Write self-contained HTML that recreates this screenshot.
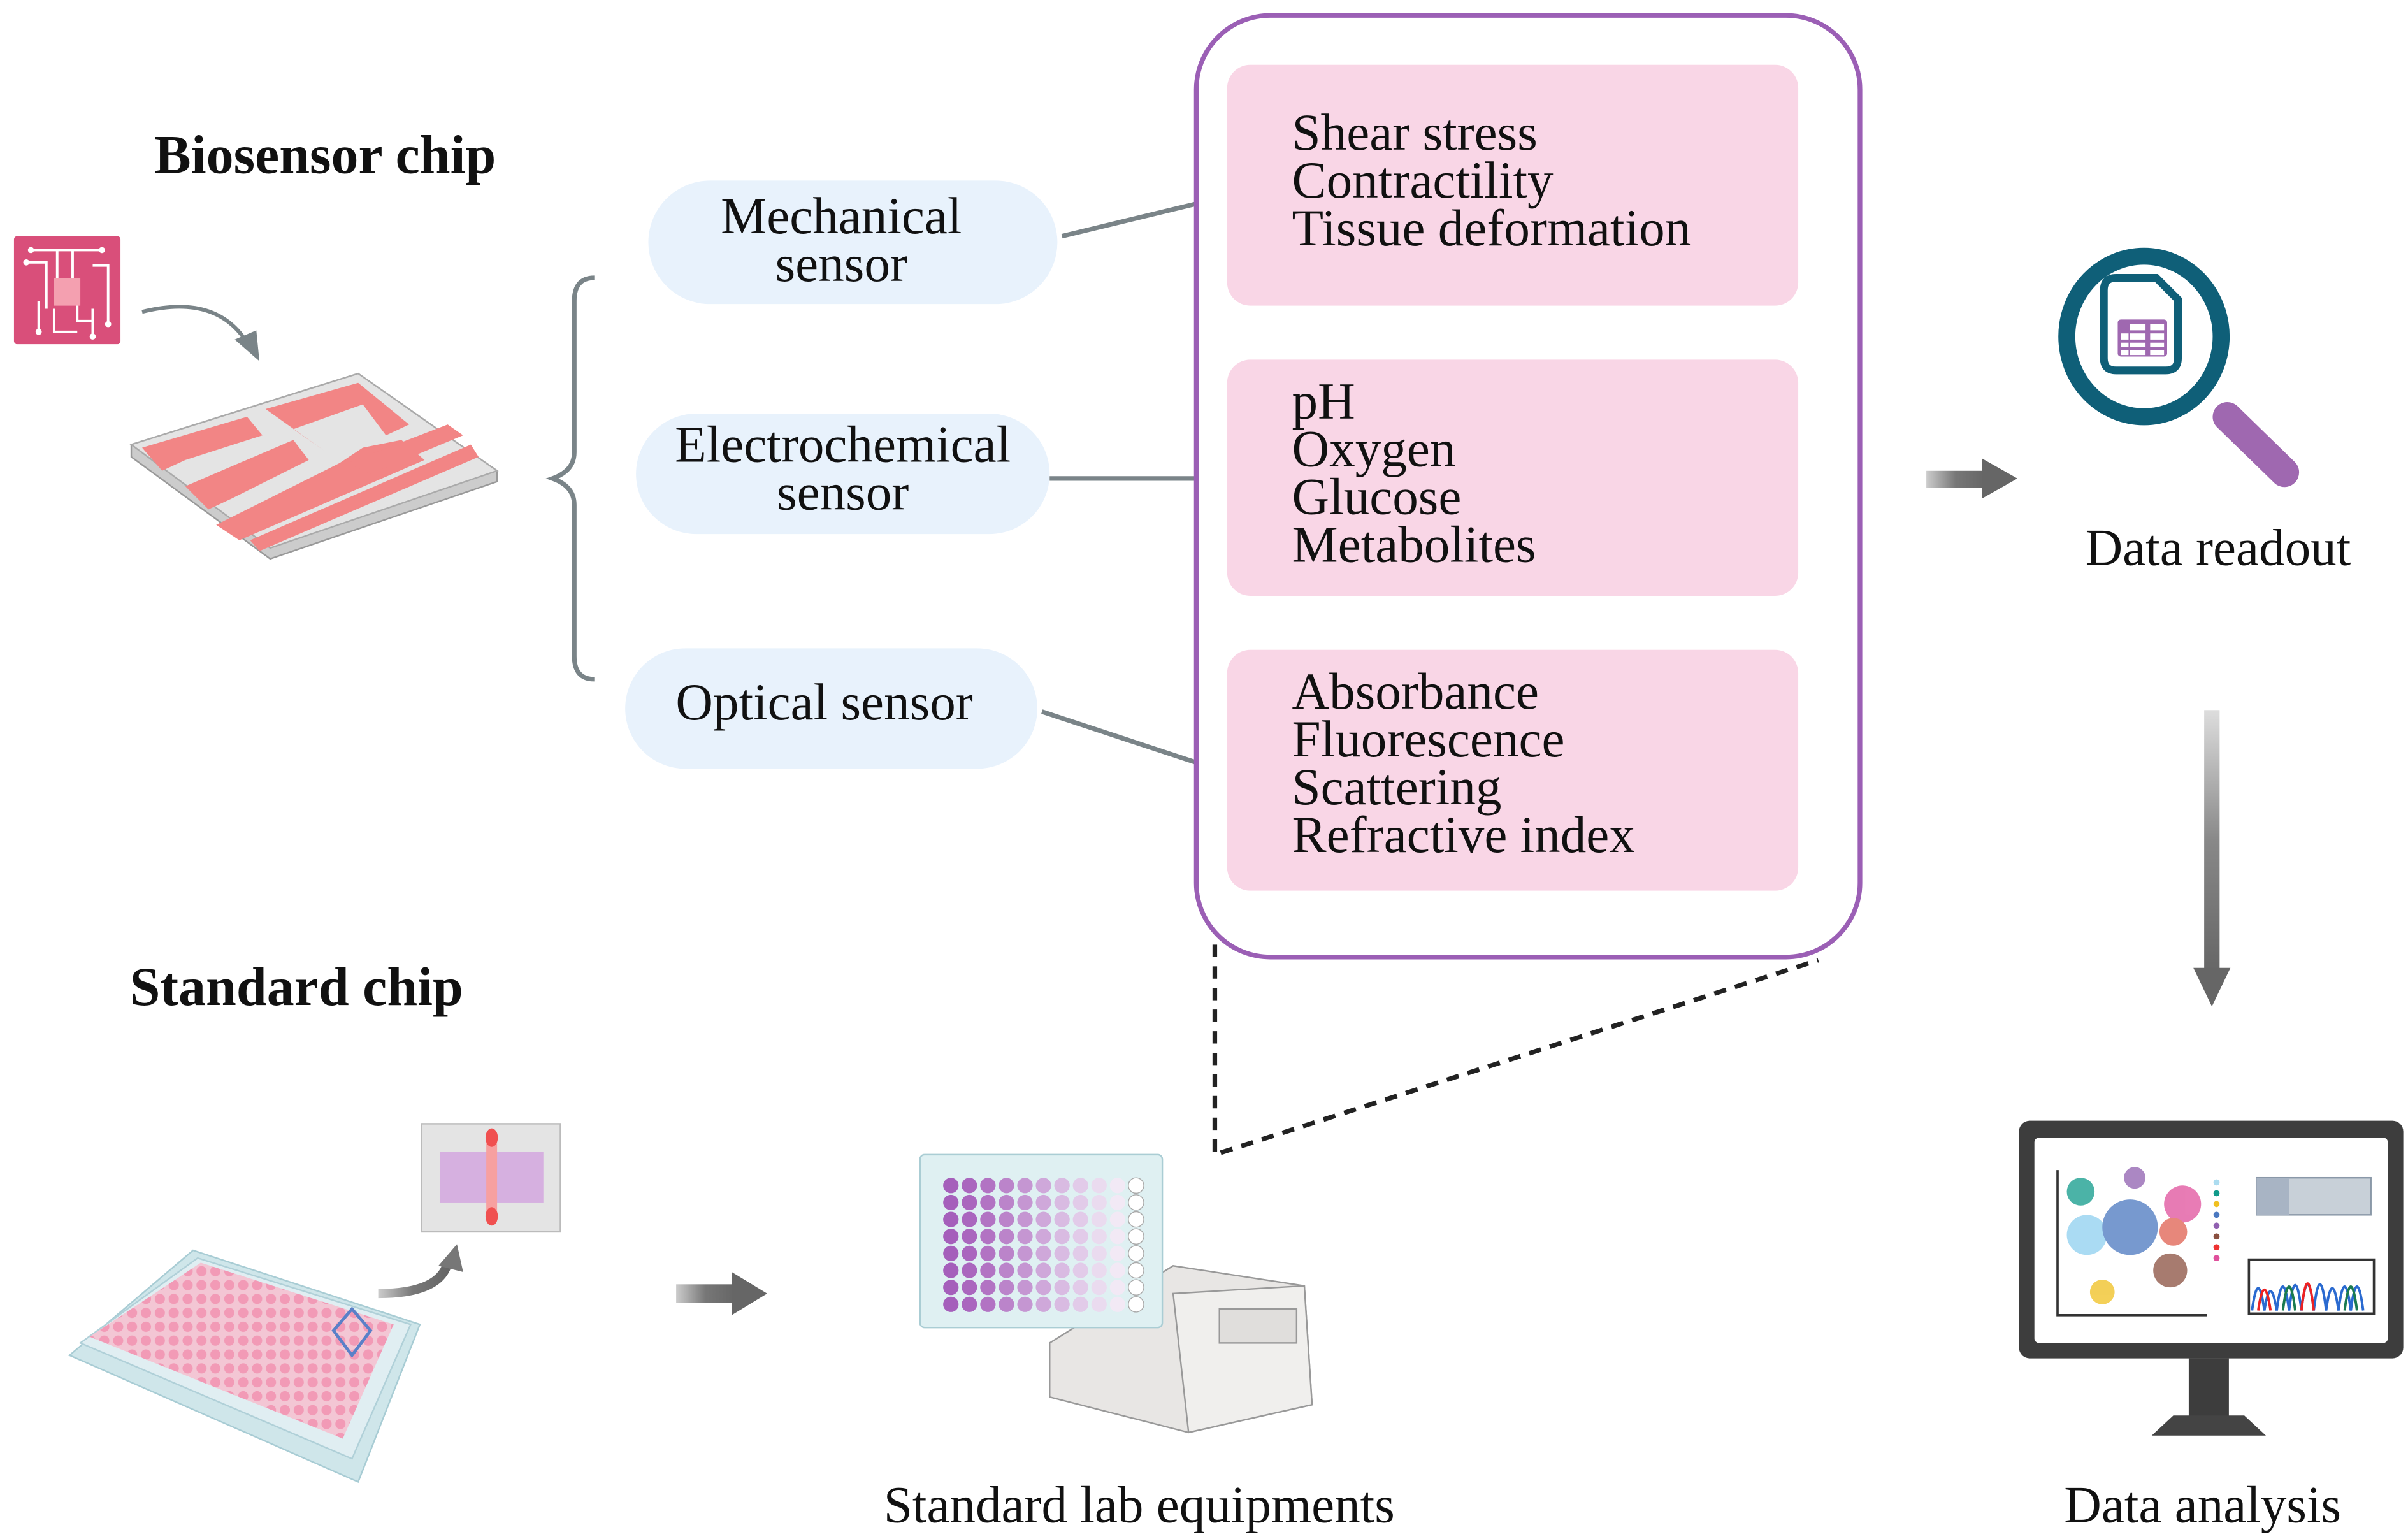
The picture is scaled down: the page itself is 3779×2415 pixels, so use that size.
<!DOCTYPE html>
<html><head><meta charset="utf-8"><style>
html,body{margin:0;padding:0;background:#fff;}
svg{display:block;}
text{font-family:"Liberation Serif",serif;fill:#111;}
</style></head><body>
<svg width="3779" height="2415" viewBox="0 0 1560 997" xmlns="http://www.w3.org/2000/svg">
<defs>
<linearGradient id="ga" x1="0" x2="1" y1="0" y2="0"><stop offset="0" stop-color="#ccc"/><stop offset="0.5" stop-color="#777"/><stop offset="1" stop-color="#666"/></linearGradient>
<linearGradient id="gd" x1="0" x2="0" y1="0" y2="1"><stop offset="0" stop-color="#ddd"/><stop offset="0.5" stop-color="#888"/><stop offset="1" stop-color="#666"/></linearGradient>
<pattern id="wp" width="9" height="9" patternUnits="userSpaceOnUse"><rect width="9" height="9" fill="#f3c6d4"/><circle cx="4.5" cy="4.5" r="3.3" fill="#f29ab6"/></pattern>
<g id="wrow"><circle cx="616" cy="768" r="5" fill="#a55fbb"/><circle cx="628" cy="768" r="5" fill="#aa66be"/><circle cx="640" cy="768" r="5" fill="#b273c3"/><circle cx="652" cy="768" r="5" fill="#bb84ca"/><circle cx="664" cy="768" r="5" fill="#c596d2"/><circle cx="676" cy="768" r="5" fill="#cfa8da"/><circle cx="688" cy="768" r="5" fill="#d9bbe2"/><circle cx="700" cy="768" r="5" fill="#e2cbe9"/><circle cx="712" cy="768" r="5" fill="#eadbef"/><circle cx="724" cy="768" r="5" fill="#f2e9f5"/><circle cx="736" cy="768" r="5" fill="#fff" stroke="#aaa" stroke-width="0.6"/></g>
</defs>

<text x="100" y="112" font-size="35.5" font-weight="bold">Biosensor chip</text>
<text x="84" y="651" font-size="35.5" font-weight="bold">Standard chip</text>

<!-- chip icon -->
<rect x="9" y="153" width="69" height="70" rx="2" fill="#d94f7a"/>
<g stroke="#fff" stroke-width="1.6" fill="none">
<path d="M20 162 H66 M37 162 V180 M47 162 V180 M17 170 H30 V200 M60 172 H70 V210 M25 195 V215 M35 200 V215 H50 M60 200 V218 M50 195 V208 H60"/>
</g>
<g fill="#fff"><circle cx="20" cy="162" r="2"/><circle cx="66" cy="162" r="2"/><circle cx="17" cy="170" r="2"/><circle cx="25" cy="215" r="2"/><circle cx="60" cy="218" r="2"/><circle cx="70" cy="210" r="2"/></g>
<rect x="35" y="180" width="17" height="18" fill="#f4a0b0"/>
<path d="M92 202 Q140 190 160 222" stroke="#7a8488" stroke-width="2.5" fill="none"/>
<polygon points="152,220 168,234 166,214" fill="#7a8488"/>

<!-- 3D chip -->
<polygon points="85,288 232,242 322,305 322,312 175,362 85,296" fill="#ccc" stroke="#999" stroke-width="1"/>
<polygon points="85,288 232,242 322,305 175,355" fill="#e4e4e4" stroke="#aaa" stroke-width="1"/>
<g fill="#f28585">
<polygon points="92,290 160,270 170,282 120,298 105,305"/>
<polygon points="120,315 190,285 200,298 150,323 135,330"/>
<polygon points="140,340 220,300 235,290 260,285 275,298 155,350"/>
<polygon points="162,350 305,288 310,296 168,357"/>
<polygon points="172,265 232,248 265,275 250,282 235,262 190,278 210,292"/>
<polygon points="225,300 290,275 300,282 240,307"/>
</g>

<path d="M385 180 Q372 180 372 195 L372 293 Q372 305 358 310 Q372 315 372 327 L372 425 Q372 440 385 440" stroke="#7a8488" stroke-width="3" fill="none"/>

<rect x="420" y="117" width="265" height="80" rx="40" fill="#e8f2fc"/>
<text x="545" y="151" font-size="33.5" text-anchor="middle">Mechanical</text>
<text x="545" y="182" font-size="33.5" text-anchor="middle">sensor</text>
<rect x="412" y="268" width="268" height="78" rx="39" fill="#e8f2fc"/>
<text x="546" y="299" font-size="33.5" text-anchor="middle">Electrochemical</text>
<text x="546" y="330" font-size="33.5" text-anchor="middle">sensor</text>
<rect x="405" y="420" width="267" height="78" rx="39" fill="#e8f2fc"/>
<text x="534" y="466" font-size="33.5" text-anchor="middle">Optical sensor</text>

<g stroke="#7a8488" stroke-width="3">
<line x1="688" y1="153" x2="775" y2="132"/>
<line x1="680" y1="310" x2="775" y2="310"/>
<line x1="675" y1="461" x2="775" y2="494"/>
</g>

<rect x="775" y="10" width="430" height="610" rx="48" fill="#fff" stroke="#9b5fb5" stroke-width="3"/>
<rect x="795" y="42" width="370" height="156" rx="15" fill="#f9d6e6"/>
<rect x="795" y="233" width="370" height="153" rx="15" fill="#f9d6e6"/>
<rect x="795" y="421" width="370" height="156" rx="15" fill="#f9d6e6"/>
<g font-size="33.5">
<text x="837" y="97">Shear stress</text>
<text x="837" y="128">Contractility</text>
<text x="837" y="159">Tissue deformation</text>
<text x="837" y="271">pH</text>
<text x="837" y="302">Oxygen</text>
<text x="837" y="333">Glucose</text>
<text x="837" y="364">Metabolites</text>
<text x="837" y="459">Absorbance</text>
<text x="837" y="490">Fluorescence</text>
<text x="837" y="521">Scattering</text>
<text x="837" y="552">Refractive index</text>
</g>

<path d="M787 612 V748 L1178 622" stroke="#222" stroke-width="3" stroke-dasharray="8,6" fill="none"/>

<rect x="1248" y="305" width="38" height="11" fill="url(#ga)"/>
<polygon points="1284,297 1307,310 1284,323" fill="#666"/>

<!-- magnifier -->
<ellipse cx="1389" cy="218" rx="50" ry="52" fill="none" stroke="#0f5f78" stroke-width="11"/>
<path d="M1363 188 Q1363 180 1371 180 H1397 L1411 194 V232 Q1411 240 1403 240 H1371 Q1363 240 1363 232 Z" fill="none" stroke="#0f5f78" stroke-width="5"/>
<rect x="1372" y="207" width="32" height="24" rx="2" fill="#9f68b0"/>
<g fill="#fff"><rect x="1380" y="210" width="10" height="4"/><rect x="1393" y="210" width="9" height="4"/>
<rect x="1374" y="216" width="5" height="4"/><rect x="1380" y="216" width="10" height="4"/><rect x="1393" y="216" width="9" height="4"/>
<rect x="1374" y="222" width="5" height="3"/><rect x="1380" y="222" width="10" height="3"/><rect x="1393" y="222" width="9" height="3"/>
<rect x="1374" y="227" width="5" height="3"/><rect x="1380" y="227" width="10" height="3"/><rect x="1393" y="227" width="9" height="3"/></g>
<line x1="1443" y1="270" x2="1480" y2="306" stroke="#9f68b0" stroke-width="19" stroke-linecap="round"/>
<text x="1437" y="366" font-size="33.5" text-anchor="middle">Data readout</text>

<rect x="1428" y="460" width="10" height="170" fill="url(#gd)"/>
<polygon points="1421,627 1445,627 1433,652" fill="#666"/>

<!-- monitor -->
<rect x="1308" y="726" width="249" height="154" rx="7" fill="#3d3d3d"/>
<rect x="1318" y="737" width="229" height="133" rx="3" fill="#fff"/>
<rect x="1418" y="880" width="26" height="38" fill="#3d3d3d"/>
<polygon points="1408,917 1454,917 1468,930 1394,930" fill="#444"/>
<polyline points="1333,758 1333,852 1430,852" stroke="#333" stroke-width="1.5" fill="none"/>
<g opacity="0.75">
<circle cx="1348" cy="772" r="9" fill="#109a8a"/>
<circle cx="1352" cy="800" r="13" fill="#8ed0f0"/>
<circle cx="1380" cy="795" r="18" fill="#4a78c0"/>
<circle cx="1383" cy="763" r="7" fill="#9060b0"/>
<circle cx="1414" cy="780" r="12" fill="#e0509c"/>
<circle cx="1408" cy="798" r="9" fill="#e06050"/>
<circle cx="1406" cy="823" r="11" fill="#8a5040"/>
<circle cx="1362" cy="837" r="8" fill="#f0c020"/>
</g>
<circle cx="1436" cy="766" r="2" fill="#acdcf0"/><circle cx="1436" cy="773" r="2" fill="#109a8a"/><circle cx="1436" cy="780" r="2" fill="#f0c020"/><circle cx="1436" cy="787" r="2" fill="#4a78c0"/><circle cx="1436" cy="794" r="2" fill="#9060b0"/><circle cx="1436" cy="801" r="2" fill="#8a5040"/><circle cx="1436" cy="808" r="2" fill="#e33"/><circle cx="1436" cy="815" r="2" fill="#e0509c"/>
<rect x="1462" y="763" width="74" height="24" fill="#c8d0d8" stroke="#8a98a8"/>
<rect x="1462" y="763" width="21" height="24" fill="#a8b4c4"/>
<rect x="1457" y="816" width="81" height="35" fill="#fff" stroke="#333" stroke-width="1.5"/>
<path d="M1459 849 Q1463 820 1467 849 Q1471 824 1475 849 Q1479 818 1483 849 Q1487 816 1491 849 Q1495 815 1499 849 Q1503 815 1507 849 Q1511 820 1515 849 Q1519 818 1523 849 Q1527 818 1531 849" stroke="#2a6ad0" stroke-width="1.6" fill="none"/>
<path d="M1463 849 Q1467 822 1471 849 M1491 849 Q1495 814 1499 849" stroke="#e22" stroke-width="1.6" fill="none"/>
<path d="M1479 849 Q1483 818 1487 849 M1519 849 Q1523 818 1527 849" stroke="#1a7a50" stroke-width="1.6" fill="none"/>
<text x="1427" y="986" font-size="33.5" text-anchor="middle">Data analysis</text>

<!-- well plate -->
<polygon points="45,878 125,810 272,858 232,960" fill="#cfe6ea" stroke="#a8ccd4"/>
<polygon points="52,870 128,815 266,858 228,945" fill="#e0eef2" stroke="#b0d0d8"/>
<polygon points="58,866 130,818 255,858 222,932" fill="url(#wp)"/>
<polygon points="228,848 240,862 228,878 216,862" fill="none" stroke="#5a80c8" stroke-width="2"/>
<path d="M245 838 Q285 838 290 818" stroke="url(#ga)" stroke-width="6" fill="none"/>
<polygon points="284,820 296,806 300,824" fill="#777"/>
<rect x="273" y="728" width="90" height="70" fill="#e4e4e4" stroke="#bbb"/>
<rect x="285" y="746" width="67" height="33" fill="#d6b0e0"/>
<rect x="315" y="735" width="7" height="55" fill="#f7a0a0"/>
<ellipse cx="318.5" cy="737" rx="4" ry="6" fill="#f05050"/>
<ellipse cx="318.5" cy="788" rx="4" ry="6" fill="#f05050"/>

<rect x="438" y="832" width="38" height="12" fill="url(#ga)"/>
<polygon points="474,824 497,838 474,852" fill="#666"/>

<!-- plate reader -->
<polygon points="680,870 760,820 845,833 850,910 770,928 680,905" fill="#e8e6e4" stroke="#999"/>
<polygon points="760,838 845,833 850,910 770,928" fill="#f0efed" stroke="#999"/>
<rect x="790" y="848" width="50" height="22" fill="#e0dedc" stroke="#999"/>
<rect x="596" y="748" width="157" height="112" rx="3" fill="#dff0f2" stroke="#aacdd4"/>
<use href="#wrow"/>
<use href="#wrow" y="11"/>
<use href="#wrow" y="22"/>
<use href="#wrow" y="33"/>
<use href="#wrow" y="44"/>
<use href="#wrow" y="55"/>
<use href="#wrow" y="66"/>
<use href="#wrow" y="77"/>
<text x="738" y="986" font-size="33.5" text-anchor="middle">Standard lab equipments</text>
</svg>
</body></html>
